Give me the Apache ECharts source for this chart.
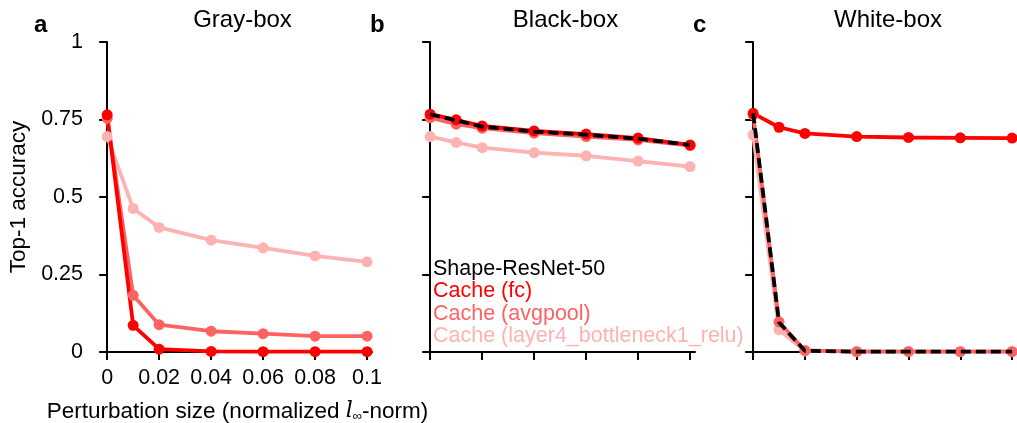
<!DOCTYPE html>
<html><head><meta charset="utf-8">
<script src="https://cdn.jsdelivr.net/npm/echarts@6/dist/echarts.min.js"></script>
<style>html,body{margin:0;padding:0;background:#fff}#c{width:1017px;height:423px}</style>
</head><body><div id="c"></div>
<script>
const xs = [0, 0.01, 0.02, 0.04, 0.06, 0.08, 0.1];
const xTicks = [0, 0.02, 0.04, 0.06, 0.08, 0.1];
const panelTitles = ['Gray-box', 'Black-box', 'White-box'];
const panelLetters = ['a', 'b', 'c'];
const seriesNames = ['Shape-ResNet-50', 'Cache (fc)', 'Cache (avgpool)', 'Cache (layer4_bottleneck1_relu)'];

// Gray-box
const grayFc = [0.765, 0.086, 0.009, 0.002, 0.001, 0.001, 0.001];
const grayAvg = [0.754, 0.183, 0.088, 0.067, 0.059, 0.051, 0.051];
const grayL4 = [0.695, 0.463, 0.402, 0.361, 0.336, 0.310, 0.291];
// Black-box
const blackBase = [0.767, 0.747, 0.727, 0.711, 0.701, 0.688, 0.668];
const blackFc = [0.767, 0.749, 0.729, 0.713, 0.703, 0.690, 0.668];
const blackAvg = [0.756, 0.735, 0.722, 0.706, 0.695, 0.684, 0.666];
const blackL4 = [0.695, 0.676, 0.659, 0.643, 0.633, 0.616, 0.598];
// White-box
const whiteBase = [0.770, 0.095, 0.004, 0.001, 0.001, 0.001, 0.001];
const whiteFc = [0.770, 0.725, 0.705, 0.695, 0.692, 0.691, 0.690];
const whiteAvg = [0.765, 0.097, 0.005, 0.001, 0.001, 0.001, 0.001];
const whiteL4 = [0.700, 0.072, 0.003, 0.002, 0.002, 0.002, 0.002];

const colBase = '#000000', colFc = '#ff0000', colAvg = '#ff6262', colL4 = '#ffb2b2';
const FONT = 'Liberation Sans, Arial, Helvetica, sans-serif';

const grids = [
  {left: 103, top: 42, width: 269, height: 310, containLabel: false, outerBoundsMode: 'none'},
  {left: 426, top: 42, width: 269, height: 310, containLabel: false, outerBoundsMode: 'none'},
  {left: 749, top: 42, width: 268, height: 310, containLabel: false, outerBoundsMode: 'none'}
];
const pair = (ys) => xs.map((x, i) => [x, ys[i]]);

function colored(name, color, ys, gi) {
  return {name, type: 'line', xAxisIndex: gi, yAxisIndex: gi, data: pair(ys),
    symbol: 'circle', symbolSize: 11, itemStyle: {color}, lineStyle: {color, width: 3.8},
    animation: false, z: 2};
}
function dashed(ys, gi) {
  return {name: seriesNames[0], type: 'line', xAxisIndex: gi, yAxisIndex: gi, data: pair(ys),
    symbol: 'none', itemStyle: {color: colBase}, lineStyle: {color: colBase, width: 3.8, type: [10, 5]},
    animation: false, z: 3};
}

const series = [
  colored(seriesNames[3], colL4, grayL4, 0),
  colored(seriesNames[2], colAvg, grayAvg, 0),
  colored(seriesNames[1], colFc, grayFc, 0),
  colored(seriesNames[3], colL4, blackL4, 1),
  colored(seriesNames[2], colAvg, blackAvg, 1),
  colored(seriesNames[1], colFc, blackFc, 1),
  dashed(blackBase, 1),
  colored(seriesNames[3], colL4, whiteL4, 2),
  colored(seriesNames[2], colAvg, whiteAvg, 2),
  colored(seriesNames[1], colFc, whiteFc, 2),
  dashed(whiteBase, 2)
];

const xAxis = grids.map((g, i) => ({
  type: 'value', gridIndex: i, min: -0.0016, max: 0.1019,
  axisLine: {show: true, onZero: false, lineStyle: {color: '#000', width: 2}},
  axisTick: {show: true, length: 8, inside: false, lineStyle: {color: '#000', width: 2}, customValues: xTicks},
  axisLabel: {show: i === 0, customValues: xTicks, color: '#000', fontSize: 21.5, fontFamily: FONT, margin: 15,
    formatter: v => String(+v.toFixed(2))},
  splitLine: {show: false},
  name: i === 0 ? 'Perturbation size (normalized {it|l}{sub|∞}-norm)' : '',
  nameLocation: 'middle', nameGap: 48,
  nameTextStyle: {color: '#000', fontSize: 22.5, fontFamily: FONT,
    rich: {it: {fontStyle: 'italic', fontFamily: 'DejaVu Serif, serif', fontSize: 22, color: '#000'},
           sub: {fontSize: 13, color: '#000', verticalAlign: 'bottom', padding: [9, 0, 0, 0]}}}
}));
const yAxis = grids.map((g, i) => ({
  type: 'value', gridIndex: i, min: 0, max: 1, interval: 0.25,
  axisLine: {show: true, lineStyle: {color: '#000', width: 2}},
  axisTick: {show: true, length: 8, lineStyle: {color: '#000', width: 2}},
  axisLabel: {show: i === 0, color: '#000', fontSize: 21.5, fontFamily: FONT, margin: 20},
  splitLine: {show: false},
  name: i === 0 ? 'Top-1 accuracy' : '', nameLocation: 'middle', nameGap: 73,
  nameTextStyle: {color: '#000', fontSize: 22.5, fontFamily: FONT}
}));

const titles = [];
grids.forEach((g, i) => {
  titles.push({text: panelTitles[i], left: g.left + g.width / 2, top: 3, textAlign: 'center',
    textStyle: {fontSize: 24, fontWeight: 'normal', color: '#000', fontFamily: FONT}});
});
[29, 365, 688].forEach((x, i) => {
  titles.push({text: panelLetters[i], left: x, top: 8,
    textStyle: {fontSize: 24, fontWeight: 'bold', color: '#000', fontFamily: FONT}});
});

const legendColors = [colBase, colFc, colAvg, colL4];
const option = {
  backgroundColor: '#fff',
  animation: false,
  title: titles,
  grid: grids,
  xAxis, yAxis, series,
  legend: {
    orient: 'vertical', left: 428, top: 258, itemWidth: 0, itemHeight: 0, itemGap: 0.5,
    selectedMode: false, padding: 0,
    data: seriesNames.map((n, i) => ({name: n, icon: 'rect', textStyle: {color: legendColors[i]}})),
    textStyle: {fontSize: 21.5, fontFamily: FONT, padding: 0}
  }
};
echarts.init(document.getElementById('c'), null, {renderer: 'canvas'}).setOption(option);
</script></body></html>
